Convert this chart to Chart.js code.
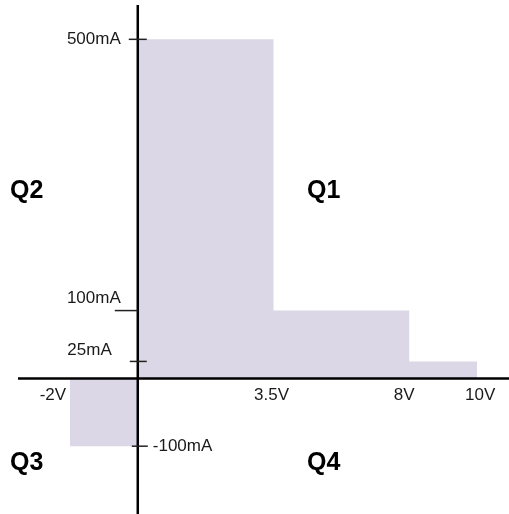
<!DOCTYPE html>
<html>
<head>
<meta charset="utf-8">
<script src="https://cdn.jsdelivr.net/npm/chart.js@4.4.1/dist/chart.umd.min.js"></script>
<style>
  html, body { margin: 0; padding: 0; background: #fff; }
  canvas { display: block; }
</style>
</head>
<body>
<canvas id="ivChart" width="509" height="514"></canvas>
<script>
// operating envelope: step outline, current held until next voltage
const voltages = [-2, 0, 3.5, 8, 10];
const currents = [-100, 500, 100, 25, 25];

const xTickValues = [-2, 3.5, 8, 10];
const xTickLabels = ['-2V', '3.5V', '8V', '10V'];
const yTickValues = [500, 100, 25, -100];
const yTickLabels = ['500mA', '100mA', '25mA', '-100mA'];
const quadrantLabels = ['Q1', 'Q2', 'Q3', 'Q4'];

// look of the picture (not data)
const fillColor = '#dcd7e6';
const tickFont = '17px "Liberation Sans", Arial, sans-serif';
const quadFont = 'bold 25px "Liberation Sans", Arial, sans-serif';
const xLabelShift = [-17, -2, -5, 3];
const yTickMarks = [
    { from: -9, to: 9, align: 'right', dx: -17, dy: 0 },
    { from: -23, to: 0, align: 'right', dx: -17, dy: -12 },
    { from: -8, to: 9, align: 'right', dx: -26, dy: -11 },
    { from: -6, to: 10, align: 'left', dx: 15, dy: 0 }
];
const quadPos = [[307, 191], [10, 191], [10, 463], [307, 463]];

// the sketch is not to scale: 3.5V sits where 4V would be
const xWarp = [[0, 0], [3.5, 4], [8, 8]];

function interp(v, pts, a, b) {
    if (v <= pts[0][a] || v >= pts[pts.length - 1][a]) return v;
    for (let i = 1; i < pts.length; i++) {
        if (v <= pts[i][a]) {
            const t = (v - pts[i - 1][a]) / (pts[i][a] - pts[i - 1][a]);
            return pts[i - 1][b] + t * (pts[i][b] - pts[i - 1][b]);
        }
    }
    return v;
}

class WarpScale extends Chart.LinearScale {
    getPixelForValue(value) {
        return super.getPixelForValue(interp(value, this.options.warp || [[0, 0]], 0, 1));
    }
    getValueForPixel(pixel) {
        return interp(super.getValueForPixel(pixel), this.options.warp || [[0, 0]], 1, 0);
    }
}
WarpScale.id = 'warp';
WarpScale.defaults = Chart.LinearScale.defaults;
Chart.register(WarpScale);

const axesPlugin = {
    id: 'quadrantAxes',
    afterDatasetsDraw(chart) {
        const ctx = chart.ctx;
        const xs = chart.scales.x;
        const ys = chart.scales.y;
        const x0 = xs.getPixelForValue(0);
        const y0 = ys.getPixelForValue(0);
        ctx.save();

        ctx.strokeStyle = '#000';
        ctx.lineWidth = 2.5;
        ctx.beginPath();
        ctx.moveTo(18, y0);
        ctx.lineTo(chart.width, y0);
        ctx.moveTo(x0, 5);
        ctx.lineTo(x0, chart.height);
        ctx.stroke();

        ctx.font = tickFont;
        ctx.fillStyle = '#1a1a1a';
        ctx.textBaseline = 'middle';

        yTickValues.forEach((v, i) => {
            const py = ys.getPixelForValue(v);
            const m = yTickMarks[i];
            ctx.strokeStyle = '#222';
            ctx.lineWidth = 1.5;
            ctx.beginPath();
            ctx.moveTo(x0 + m.from, py);
            ctx.lineTo(x0 + m.to, py);
            ctx.stroke();
            ctx.textAlign = m.align;
            ctx.fillText(yTickLabels[i], x0 + m.dx, py + m.dy);
        });

        ctx.textAlign = 'center';
        xTickValues.forEach((v, i) => {
            ctx.fillText(xTickLabels[i], xs.getPixelForValue(v) + xLabelShift[i], y0 + 17);
        });

        ctx.font = quadFont;
        ctx.fillStyle = '#000';
        ctx.textAlign = 'left';
        quadrantLabels.forEach((q, i) => {
            ctx.fillText(q, quadPos[i][0], quadPos[i][1]);
        });
        ctx.restore();
    }
};

const ctx = document.getElementById('ivChart').getContext('2d');
const ivChart = new Chart(ctx, {
    type: 'line',
    data: {
        datasets: [{
            data: voltages.map((v, i) => ({ x: v, y: currents[i] })),
            stepped: 'before',
            fill: 'origin',
            backgroundColor: fillColor,
            borderColor: 'transparent',
            borderWidth: 0,
            pointRadius: 0
        }]
    },
    options: {
        responsive: false,
        animation: false,
        events: [],
        layout: { padding: 0 },
        scales: {
            x: { type: 'warp', warp: xWarp, min: -4.06, max: 10.94, display: false },
            y: { type: 'linear', min: -200, max: 558, display: false }
        },
        plugins: {
            legend: { display: false },
            tooltip: { enabled: false }
        }
    },
    plugins: [axesPlugin]
});
</script>
</body>
</html>
